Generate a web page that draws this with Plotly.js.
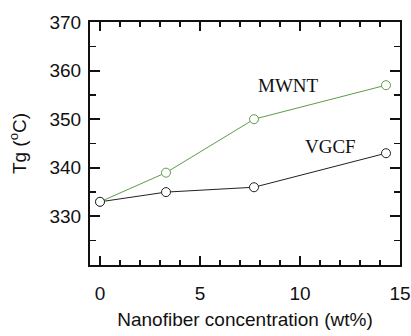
<!DOCTYPE html>
<html><head><meta charset="utf-8">
<script src="https://cdn.plot.ly/plotly-3.0.1.min.js"></script>
<style>html,body{margin:0;padding:0;background:#fff}#c{width:411px;height:336px}</style>
</head><body><div id="c"></div>
<script>
const conc = [0, 3.3, 7.7, 14.3];
const mwnt = [333, 339, 350, 357];
const vgcf = [333, 335, 336, 343];
const seriesNames = ["MWNT", "VGCF"];
const xTicks = [0, 5, 10, 15];
const xMinor = [1, 2, 3, 4, 6, 7, 8, 9, 11, 12, 13, 14];
const yTicks = [330, 340, 350, 360, 370];
const yMinor = [325, 335, 345, 355, 365];
const xRange = [-0.5, 15];
const yRange = [320, 370];

const traces = [
  {x: conc, y: mwnt, name: seriesNames[0], mode: 'lines+markers',
   line: {color: '#5f9a4c', width: 1},
   marker: {symbol: 'circle', size: 9, color: '#ffffff', line: {color: '#5f9a4c', width: 1}}},
  {x: conc, y: vgcf, name: seriesNames[1], mode: 'lines+markers',
   line: {color: '#222222', width: 1},
   marker: {symbol: 'circle', size: 9, color: '#ffffff', line: {color: '#222222', width: 1}}}
];
const tickFont = {family: 'Liberation Sans, Arial, sans-serif', size: 19, color: '#111'};
const titleFont = {family: 'Liberation Sans, Arial, sans-serif', size: 19, color: '#111'};
const layout = {
  width: 411, height: 336,
  margin: {l: 90, r: 11, t: 22, b: 71},
  paper_bgcolor: '#fff', plot_bgcolor: '#fff',
  showlegend: false,
  xaxis: {range: xRange, tickmode: 'array', tickvals: xTicks, ticktext: xTicks.map(String),
    ticks: 'inside', ticklen: 9, tickwidth: 2, tickcolor: '#111',
    minor: {tickmode: 'array', tickvals: xMinor, ticks: 'inside', ticklen: 5, tickwidth: 1.5, tickcolor: '#111', showgrid: false},
    showline: true, linecolor: '#111', linewidth: 2, mirror: 'ticks',
    ticklabelstandoff: 10,
    showgrid: false, zeroline: false, tickfont: tickFont,
    title: {text: 'Nanofiber concentration (wt%)', font: titleFont, standoff: 10}},
  yaxis: {range: yRange, tickmode: 'array', tickvals: yTicks, ticktext: yTicks.map(String),
    ticks: 'inside', ticklen: 10, tickwidth: 2, tickcolor: '#111',
    minor: {tickmode: 'array', tickvals: yMinor, ticks: 'inside', ticklen: 6, tickwidth: 1.5, tickcolor: '#111', showgrid: false},
    showline: true, linecolor: '#111', linewidth: 2, mirror: 'ticks',
    ticklabelstandoff: 3,
    showgrid: false, zeroline: false, tickfont: tickFont,
    title: {text: 'Tg (<sup>o</sup>C)', font: titleFont, standoff: 18}},
  annotations: [
    {x: 9.4, y: 357.0, text: seriesNames[0], showarrow: false, xref: 'x', yref: 'y',
     font: {family: 'Liberation Serif, Times New Roman, serif', size: 19, color: '#111'}},
    {x: 11.5, y: 344.3, text: seriesNames[1], showarrow: false, xref: 'x', yref: 'y',
     font: {family: 'Liberation Serif, Times New Roman, serif', size: 19, color: '#111'}}
  ]
};
Plotly.newPlot('c', traces, layout, {displayModeBar: false, staticPlot: true});
</script></body></html>
